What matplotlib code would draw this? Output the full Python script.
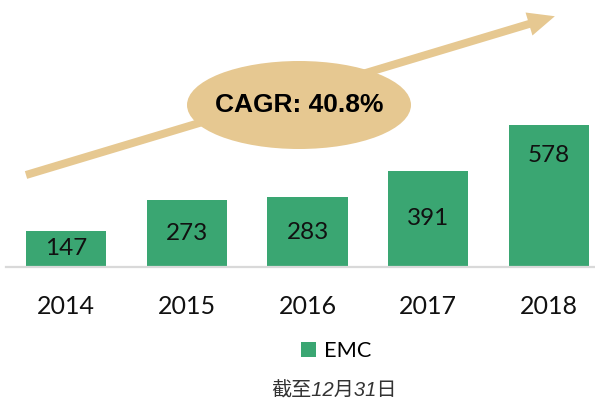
import matplotlib
matplotlib.use("Agg")
import matplotlib.pyplot as plt
from matplotlib.patches import Ellipse, FancyArrow, Patch

# data
years = ["2014", "2015", "2016", "2017", "2018"]
emc = [147, 273, 283, 391, 578]
cagr_text = "CAGR: 40.8%"
series_name = "EMC"
note_text = "截至12月31日"

green = "#3aa672"
sand = "#e6c891"
grid_grey = "#d9d9d9"

W, H = 595, 403
fig = plt.figure(figsize=(W / 100, H / 100), dpi=100)
fig.patch.set_facecolor("white")

# main bar axes: baseline at 267 px from top, 578 -> 142 px tall
px_per_unit = 142 / 578
base_px = 267
ax = fig.add_axes([6 / W, (H - base_px) / H, (W - 6) / W, base_px / H])
ax.set_facecolor("none")

bars = ax.bar(range(len(years)), emc, width=0.663, color=green, zorder=2)
ax.set_xlim(-0.497, 4.381)
ax.set_ylim(0, base_px / px_per_unit)

for b, v in zip(bars, emc):
    x = b.get_x() + b.get_width() / 2
    y = v / 2 if v < 500 else v - 30 / px_per_unit
    ax.text(x, y, str(v), ha="center", va="center", fontsize=17.5,
            family="Lato", color="#111111", zorder=3)

ax.set_xticks(range(len(years)))
ax.set_xticklabels(years, fontsize=18, family="Lato", color="#111111")
ax.tick_params(axis="x", length=0, pad=20)
ax.set_yticks([])
for s in ["top", "left", "right"]:
    ax.spines[s].set_visible(False)
ax.spines["bottom"].set_color(grid_grey)
ax.spines["bottom"].set_linewidth(1.6)

# overlay in pixel coordinates for the arrow + bubble
ov = fig.add_axes([0, 0, 1, 1])
ov.set_xlim(0, W)
ov.set_ylim(H, 0)
ov.set_axis_off()
ov.set_facecolor("none")

ov.add_patch(FancyArrow(26, 175, 503, -151, width=8, head_width=24, head_length=27,
                        length_includes_head=False, color=sand, lw=0, zorder=1))
ov.add_patch(Ellipse((299, 105), 224, 88, color=sand, lw=0, zorder=2))
ov.text(299, 105, cagr_text, ha="center", va="center", fontsize=19,
        family="Liberation Sans", weight="bold", color="black", zorder=3)

# legend
fig.legend(handles=[Patch(facecolor=green, edgecolor="none", label=series_name)],
           loc="center", bbox_to_anchor=(336.5 / W, 1 - 351 / H), frameon=False,
           prop={"family": "Lato", "size": 15.7}, handlelength=0.69, handleheight=0.69,
           handletextpad=0.37, borderpad=0)

# footnote (italic digits; CJK has no italic face)
fig.text(334 / W, 2 / H, note_text, ha="center", va="bottom", fontsize=14.5,
         family=["Liberation Sans", "Noto Sans CJK SC"], style="italic", color="#333333")

fig.savefig("out.png", dpi=100)
